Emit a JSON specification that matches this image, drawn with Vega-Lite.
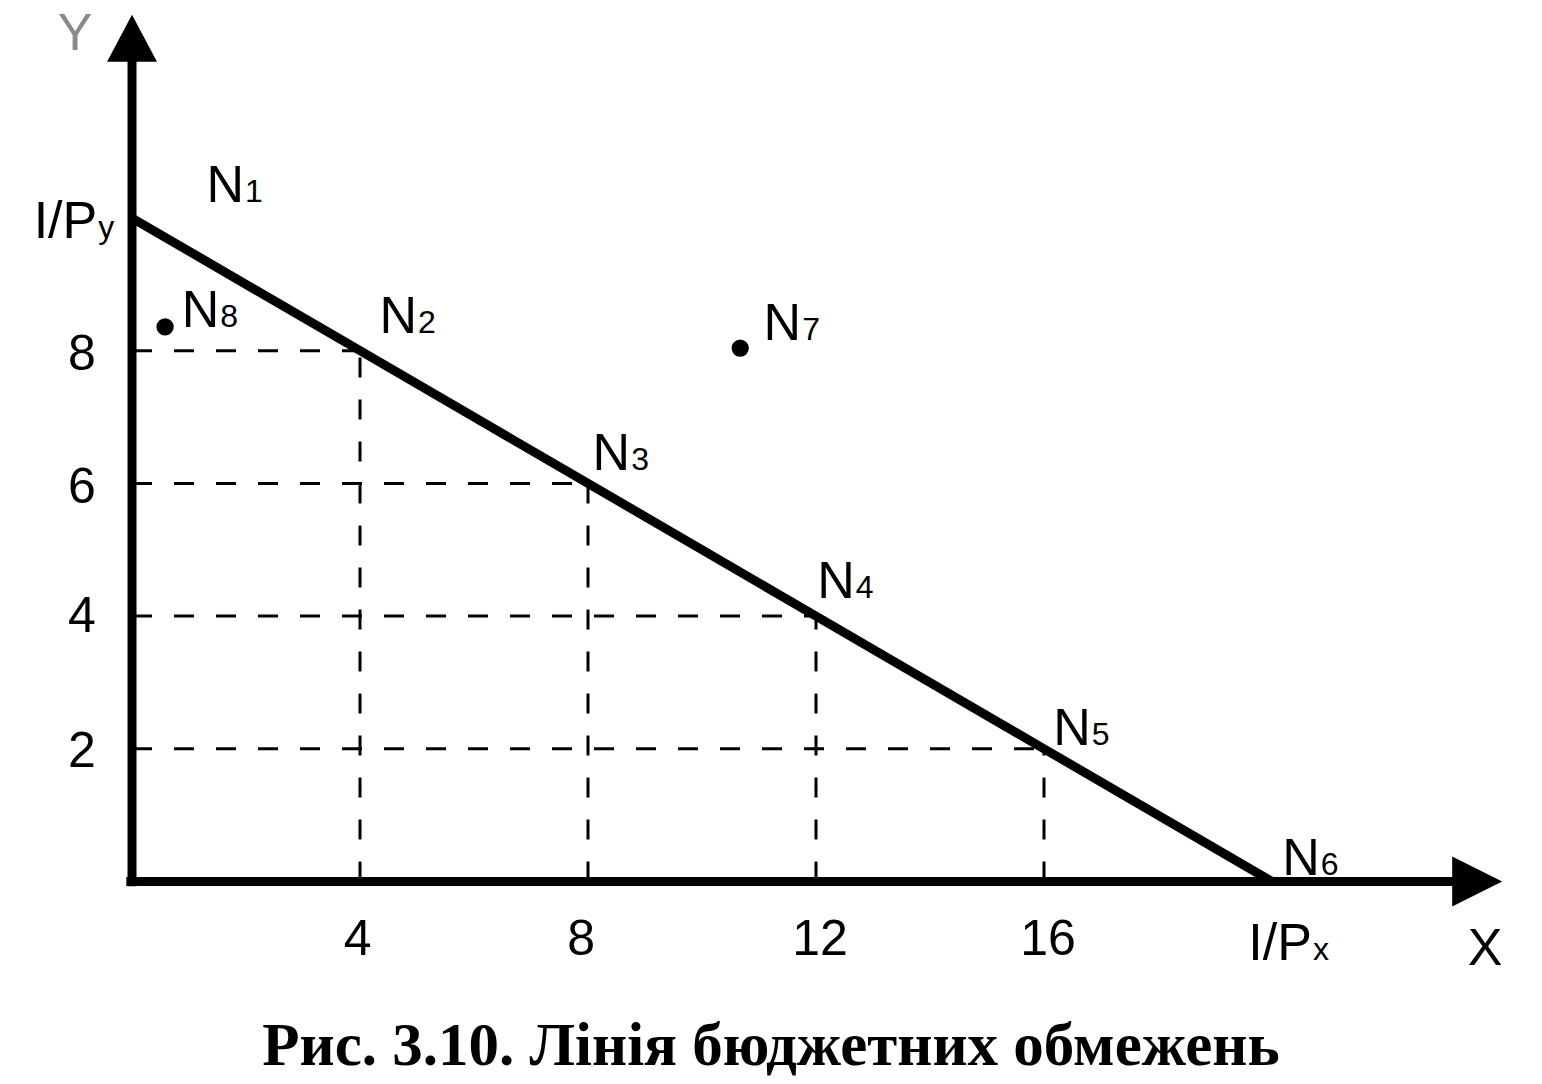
{
  "$schema": "https://vega.github.io/schema/vega-lite/v6.json",
  "width": 1542,
  "height": 1000,
  "autosize": {"type": "none"},
  "padding": {"left": 0, "top": 0, "right": 0, "bottom": 84},
  "background": "white",
  "config": {"view": {"stroke": null}},
  "title": {
    "text": "Рис. 3.10. Лінія бюджетних обмежень",
    "orient": "bottom",
    "anchor": "middle",
    "font": "Liberation Serif",
    "fontSize": 61,
    "fontWeight": "bold",
    "color": "black",
    "baseline": "alphabetic",
    "offset": 65
  },
  "datasets": {
    "budget": [
      {"x": 0, "y": 10}, {"x": 4, "y": 8}, {"x": 8, "y": 6},
      {"x": 12, "y": 4}, {"x": 16, "y": 2}, {"x": 20, "y": 0}
    ],
    "dashes": [
      {"x": 0, "y": 8, "x2": 4, "y2": 8},
      {"x": 0, "y": 6, "x2": 8, "y2": 6},
      {"x": 0, "y": 4, "x2": 12, "y2": 4},
      {"x": 0, "y": 2, "x2": 16, "y2": 2},
      {"x": 4, "y": 0, "x2": 4, "y2": 8},
      {"x": 8, "y": 0, "x2": 8, "y2": 6},
      {"x": 12, "y": 0, "x2": 12, "y2": 4},
      {"x": 16, "y": 0, "x2": 16, "y2": 2}
    ],
    "axes": [
      {"x": 0, "y": -0.07, "x2": 0, "y2": 12.4},
      {"x": -0.1, "y": 0, "x2": 23.2, "y2": 0}
    ],
    "arrowUp": [{"x": 0, "y": 12.71}],
    "arrowRight": [{"x": 23.6, "y": 0}],
    "dots": [
      {"name": "N7", "x": 10.67, "y": 8.04},
      {"name": "N8", "x": 0.58, "y": 8.36}
    ],
    "labels": [
      {"x": 1.965, "y": 10.24, "main": "N", "sub": "1"},
      {"x": 5.0, "y": 8.27, "main": "N", "sub": "2"},
      {"x": 8.74, "y": 6.2, "main": "N", "sub": "3"},
      {"x": 12.68, "y": 4.27, "main": "N", "sub": "4"},
      {"x": 16.82, "y": 2.06, "main": "N", "sub": "5"},
      {"x": 20.84, "y": 0.1, "main": "N", "sub": "6"},
      {"x": 11.74, "y": 8.16, "main": "N", "sub": "7"},
      {"x": 1.53, "y": 8.36, "main": "N", "sub": "8"},
      {"x": -0.61, "y": 9.7, "main": "I/P", "sub": "y"},
      {"x": 20.7, "y": -1.18, "main": "I/P", "sub": "x"}
    ],
    "ticks": [
      {"x": 3.96, "y": -1.11, "label": "4"},
      {"x": 7.88, "y": -1.11, "label": "8"},
      {"x": 12.07, "y": -1.11, "label": "12"},
      {"x": 16.07, "y": -1.11, "label": "16"},
      {"x": -0.88, "y": 7.71, "label": "8"},
      {"x": -0.88, "y": 5.7, "label": "6"},
      {"x": -0.88, "y": 3.76, "label": "4"},
      {"x": -0.88, "y": 1.73, "label": "2"}
    ],
    "axisNames": [
      {"x": 23.74, "y": -1.26, "label": "X", "tone": "dark"},
      {"x": -1.0, "y": 12.53, "label": "Y", "tone": "faint"}
    ]
  },
  "encoding": {
    "x": {"field": "x", "type": "quantitative", "axis": null,
          "scale": {"domain": [-2.316, 24.737], "nice": false, "zero": false}},
    "y": {"field": "y", "type": "quantitative", "axis": null,
          "scale": {"domain": [-1.786, 13.286], "nice": false, "zero": false}}
  },
  "layer": [
    {
      "data": {"name": "dashes"},
      "mark": {"type": "rule", "color": "black", "strokeWidth": 3, "strokeDash": [20, 22]},
      "encoding": {"x2": {"field": "x2"}, "y2": {"field": "y2"}}
    },
    {
      "data": {"name": "axes"},
      "mark": {"type": "rule", "color": "black", "strokeWidth": 9},
      "encoding": {"x2": {"field": "x2"}, "y2": {"field": "y2"}}
    },
    {
      "data": {"name": "budget"},
      "mark": {"type": "line", "color": "black", "strokeWidth": 9, "strokeCap": "butt"},
      "encoding": {}
    },
    {
      "data": {"name": "arrowUp"},
      "mark": {"type": "point", "shape": "M0,-0.94L1,0.94L-1,0.94Z", "size": 2500, "filled": true, "color": "black", "opacity": 1},
      "encoding": {}
    },
    {
      "data": {"name": "arrowRight"},
      "mark": {"type": "point", "shape": "M1,0L-1,1L-1,-1Z", "size": 2500, "filled": true, "color": "black", "opacity": 1},
      "encoding": {}
    },
    {
      "data": {"name": "dots"},
      "mark": {"type": "circle", "size": 300, "color": "black", "opacity": 1},
      "encoding": {}
    },
    {
      "data": {"name": "labels"},
      "mark": {"type": "text", "font": "Liberation Sans", "fontSize": 52, "align": "right", "baseline": "alphabetic", "color": "black"},
      "encoding": {"text": {"field": "main"}}
    },
    {
      "data": {"name": "labels"},
      "mark": {"type": "text", "font": "Liberation Sans", "fontSize": 32, "align": "left", "baseline": "alphabetic", "dx": 1, "color": "black"},
      "encoding": {"text": {"field": "sub"}}
    },
    {
      "data": {"name": "ticks"},
      "mark": {"type": "text", "font": "Liberation Sans", "fontSize": 50, "align": "center", "baseline": "alphabetic", "color": "black"},
      "encoding": {"text": {"field": "label"}}
    },
    {
      "data": {"name": "axisNames"},
      "mark": {"type": "text", "font": "Liberation Sans", "fontSize": 52, "align": "center", "baseline": "alphabetic"},
      "encoding": {
        "text": {"field": "label"},
        "color": {"field": "tone", "type": "nominal", "legend": null,
                  "scale": {"domain": ["dark", "faint"], "range": ["black", "#8a8a8a"]}}
      }
    }
  ]
}
